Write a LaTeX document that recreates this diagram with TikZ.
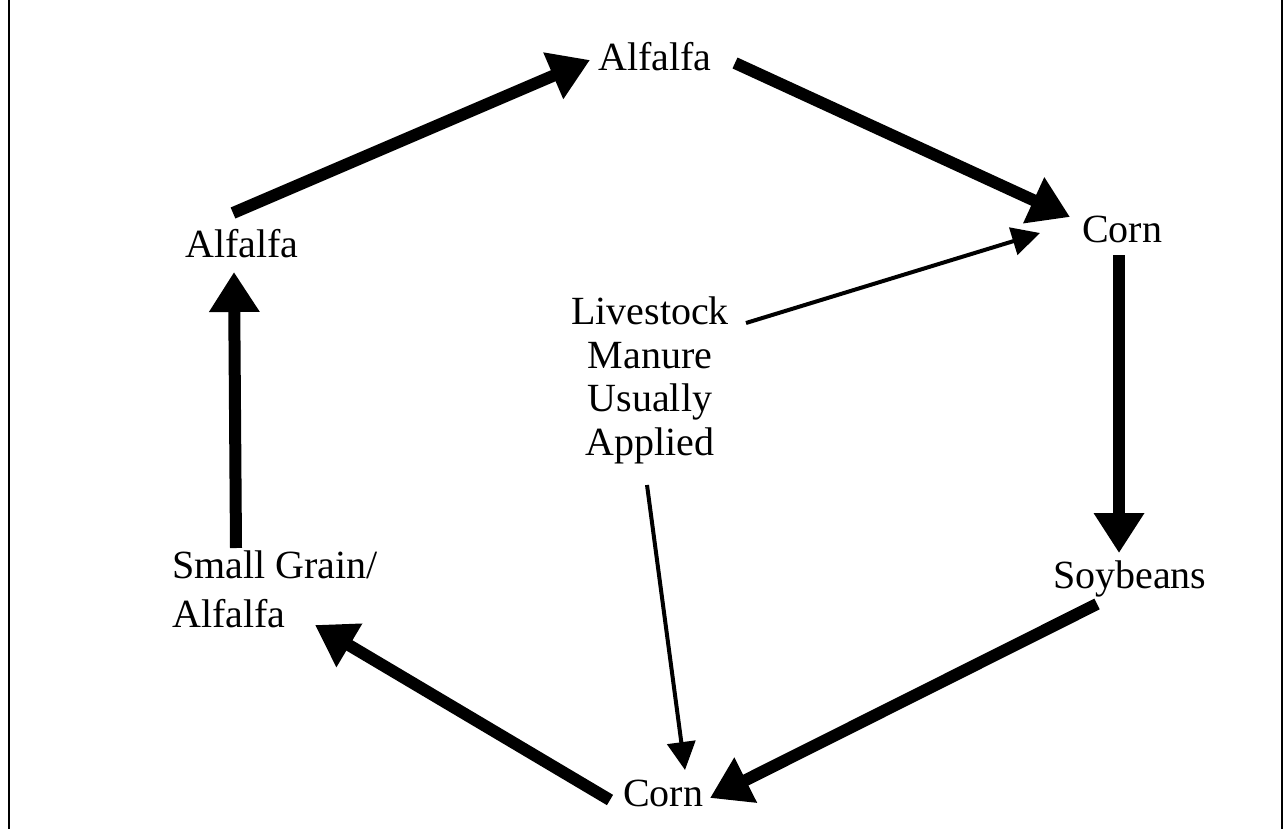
\documentclass[tikz,border=0pt]{standalone}
\usepackage{fontspec}
\setmainfont{Liberation Serif}
\usetikzlibrary{arrows.meta}
\tikzset{
  lbl/.style={inner sep=0pt, font=\fontsize{40}{43.5}\selectfont},
  bigarrow/.style={line width=12pt, -{Triangle[length=40pt,width=48pt]}},
  thinarrow/.style={line width=4pt, -{Triangle[length=28pt,width=28pt]}},
  frameline/.style={line width=2.5pt}
}
\begin{document}
\begin{tikzpicture}[x=1pt,y=-1pt]
\useasboundingbox (0,0) rectangle (1284,829);
\draw[frameline] (9,-5) -- (9,835);
\draw[line width=2pt] (1282,-5) -- (1282,835);
% nodes (base west at left edge of text, baseline)
\node[lbl, anchor=base west] (alfT) at (598,71) {Alfalfa};
\node[lbl, anchor=base west] (corR) at (1082,242) {Corn};
\node[lbl, anchor=base west] (alfL) at (185,257) {Alfalfa};
\node[lbl, anchor=base west] (soy) at (1053,588) {Soybeans};
\node[lbl, anchor=base west] (corB) at (623,806) {Corn};
\node[lbl, anchor=base west] (smg) at (172,578) {Small Grain/};
\node[lbl, anchor=base west] (smg2) at (172,627) {Alfalfa};
\node[lbl, anchor=base, align=center] (lvs) at (650,455) {Livestock\\Manure\\Usually\\Applied};
% cycle arrows
\draw[bigarrow] ([shift={(48,-44)}]alfL.base west) -- ([shift={(-8,-11)}]alfT.base west);
\draw[bigarrow] ([shift={(137,-8)}]alfT.base west) -- ([shift={(-12,-25)}]corR.base west);
\draw[bigarrow] ([shift={(37,13)}]corR.base west) -- ([shift={(66,-35)}]soy.base west);
\draw[bigarrow] ([shift={(44,16)}]soy.base west) -- ([shift={(87,-8)}]corB.base west);
\draw[bigarrow] ([shift={(-13,-6)}]corB.base west) -- ([shift={(143,47)}]smg.base west);
\draw[bigarrow] ([shift={(64,-30)}]smg.base west) -- ([shift={(49,15)}]alfL.base west);
% manure arrows
\draw[thinarrow] ([shift={(96,-132)}]lvs.base) -- ([shift={(-42,-9)}]corR.base west);
\draw[thinarrow] ([shift={(-3,30)}]lvs.base) -- ([shift={(62,-36)}]corB.base west);
\end{tikzpicture}
\end{document}
